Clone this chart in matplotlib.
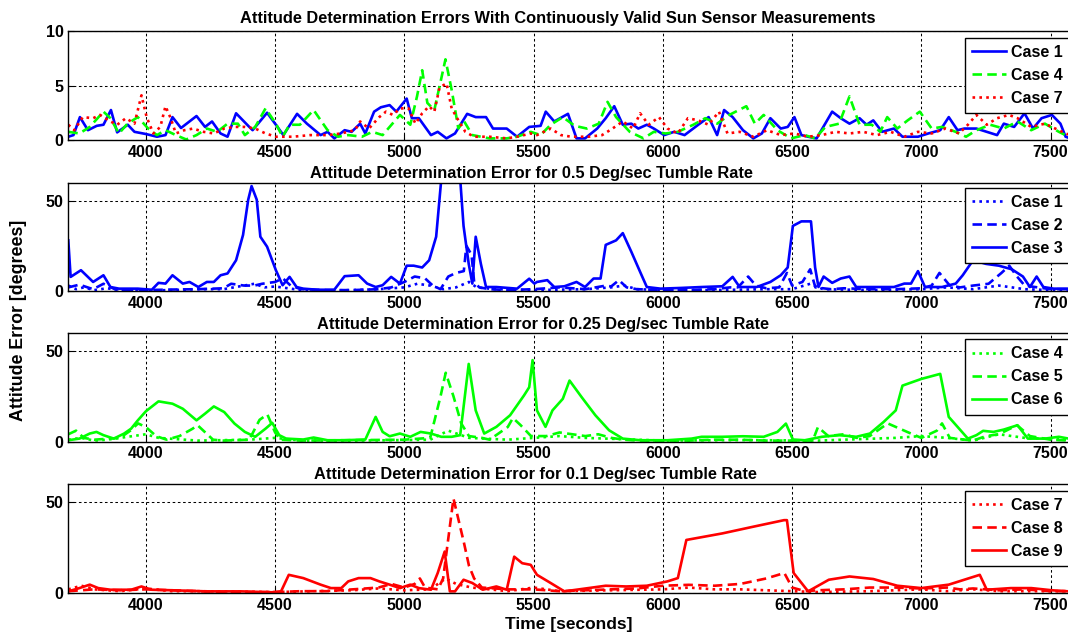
import matplotlib
matplotlib.use('Agg')
import matplotlib.pyplot as plt

plt.rcParams['font.family'] = ['Liberation Sans', 'DejaVu Sans']
plt.rcParams['font.weight'] = 'bold'

# ---------------- data ----------------
titles = ["Attitude Determination Errors With Continuously Valid Sun Sensor Measurements",
          "Attitude Determination Error for 0.5 Deg/sec Tumble Rate",
          "Attitude Determination Error for 0.25 Deg/sec Tumble Rate",
          "Attitude Determination Error for 0.1 Deg/sec Tumble Rate"]
xticks = [4000, 4500, 5000, 5500, 6000, 6500, 7000, 7500]
yticks_top = [0, 5, 10]
yticks_low = [0, 50]

# Panel 1
p1_case1_t = [3700, 3720, 3745, 3776, 3810, 3836, 3865, 3889, 3930, 3956, 4000, 4043, 4076, 4103, 4136, 4196,
              4229, 4256, 4289, 4316, 4349, 4396, 4413, 4469, 4503, 4532, 4585, 4623, 4676, 4703, 4729, 4769,
              4796, 4829, 4849, 4883, 4909, 4943, 4969, 5009, 5029, 5056, 5103, 5129, 5163, 5196, 5243, 5276,
              5316, 5343, 5396, 5436, 5483, 5527, 5547, 5580, 5633, 5666, 5699, 5746, 5779, 5812, 5845, 5878,
              5905, 5938, 5965, 6005, 6044, 6084, 6137, 6177, 6210, 6237, 6270, 6310, 6350, 6383, 6416, 6456,
              6483, 6509, 6536, 6562, 6595, 6655, 6688, 6722, 6761, 6788, 6814, 6848, 6894, 6927, 6987, 7027,
              7073, 7106, 7140, 7166, 7213, 7253, 7293, 7319, 7359, 7399, 7432, 7465, 7505, 7538, 7558, 7570]
p1_case1_y = [0.3, 0.45, 2.1, 0.9, 1.3, 1.4, 2.75, 0.7, 1.4, 0.75, 0.55, 0.3, 0.45, 2.1, 1.1, 2.2,
              1.2, 1.7, 0.6, 0.3, 2.45, 1.3, 0.9, 2.5, 1.4, 0.45, 2.4, 1.5, 0.45, 0.75, 0.15, 0.9,
              0.75, 1.5, 0.6, 2.6, 3.0, 3.2, 2.6, 3.8, 2.0, 2.0, 0.45, 0.75, 0.15, 0.6, 2.4, 2.1,
              2.1, 1.05, 1.05, 0.3, 1.2, 1.3, 2.6, 1.7, 2.4, 0.15, 0.15, 1.05, 2.0, 3.1, 1.4, 1.5,
              1.05, 1.4, 1.05, 0.45, 0.75, 0.45, 1.4, 2.1, 0.45, 2.75, 2.1, 0.9, 0.15, 0.6, 2.0, 1.05,
              1.2, 2.1, 0.45, 0.3, 0.15, 2.6, 2.0, 1.5, 2.0, 1.4, 1.8, 0.75, 1.05, 0.3, 0.3, 0.6,
              0.9, 2.1, 0.9, 1.05, 1.05, 0.75, 0.45, 1.5, 1.2, 2.45, 1.05, 2.0, 2.3, 1.5, 0.3, 0.2]

p1_case4_t = [3700, 3743, 3783, 3836, 3863, 3896, 3929, 3969, 4009, 4043, 4076, 4116, 4156, 4196, 4236, 4276,
              4316, 4356, 4383, 4423, 4463, 4503, 4529, 4556, 4596, 4649, 4703, 4743, 4783, 4836, 4876, 4916,
              4943, 4983, 5023, 5049, 5069, 5089, 5116, 5136, 5159, 5183, 5209, 5229, 5263, 5329, 5396, 5436,
              5489, 5527, 5566, 5613, 5659, 5706, 5752, 5786, 5819, 5872, 5925, 5965, 6011, 6058, 6118, 6164,
              6210, 6257, 6323, 6356, 6390, 6443, 6496, 6549, 6589, 6629, 6682, 6722, 6761, 6808, 6841, 6868,
              6907, 6947, 6994, 7040, 7080, 7133, 7173, 7213, 7266, 7319, 7372, 7425, 7478, 7532, 7570]
p1_case4_y = [0.75, 0.6, 1.2, 2.6, 2.0, 0.6, 1.5, 2.1, 1.05, 0.45, 0.9, 0.45, 0.05, 0.45, 1.05, 0.75,
              1.5, 1.5, 0.45, 1.2, 2.9, 1.5, 0.3, 1.4, 1.4, 2.75, 0.9, 0.3, 0.45, 0.3, 0.75, 0.45,
              1.2, 2.3, 1.4, 4.0, 6.4, 3.4, 2.75, 4.9, 7.4, 4.6, 1.05, 1.8, 0.45, 0.15, 0.15, 0.3,
              0.75, 0.45, 1.4, 2.1, 1.3, 1.05, 1.5, 3.5, 2.1, 0.75, 0.15, 0.75, 0.6, 0.75, 1.4, 2.0,
              1.5, 2.3, 3.1, 1.5, 2.3, 0.9, 0.15, 0.45, 0.15, 1.2, 1.5, 4.0, 1.4, 1.4, 0.75, 2.1,
              1.05, 1.8, 2.6, 1.05, 1.2, 0.75, 0.3, 0.9, 1.4, 1.05, 1.7, 0.9, 1.5, 0.75, 0.3]

p1_case7_t = [3700, 3723, 3756, 3796, 3823, 3863, 3889, 3923, 3956, 3983, 4003, 4029, 4056, 4076, 4096, 4116,
              4149, 4183, 4223, 4263, 4303, 4343, 4383, 4423, 4463, 4503, 4569, 4636, 4703, 4756, 4809, 4829,
              4863, 4903, 4929, 4956, 4983, 5016, 5043, 5069, 5096, 5116, 5136, 5163, 5183, 5209, 5236, 5269,
              5329, 5396, 5436, 5489, 5513, 5566, 5606, 5646, 5712, 5765, 5805, 5845, 5885, 5912, 5945, 5985,
              6018, 6058, 6097, 6137, 6177, 6217, 6250, 6297, 6350, 6403, 6456, 6509, 6562, 6615, 6668, 6722,
              6775, 6828, 6881, 6934, 6987, 7040, 7093, 7146, 7180, 7213, 7253, 7293, 7339, 7372, 7425, 7478,
              7518, 7558, 7570]
p1_case7_y = [1.4, 0.9, 2.1, 2.0, 2.3, 1.7, 1.4, 2.0, 1.5, 4.1, 2.1, 0.6, 1.2, 3.1, 2.0, 0.6,
              0.9, 1.05, 0.75, 0.6, 1.05, 1.2, 1.2, 1.05, 0.6, 0.3, 0.3, 0.45, 0.45, 0.6, 0.9, 1.7,
              1.05, 2.1, 2.6, 2.3, 2.9, 2.9, 1.5, 2.45, 3.1, 2.6, 4.8, 5.2, 2.9, 1.8, 0.75, 0.3,
              0.3, 0.15, 0.3, 0.6, 0.45, 1.05, 0.45, 0.3, 0.3, 0.45, 1.05, 1.7, 1.05, 2.45, 1.4, 2.1,
              1.05, 0.6, 2.0, 1.8, 1.4, 2.6, 0.6, 0.75, 0.3, 0.9, 0.45, 0.6, 0.3, 0.45, 0.75, 0.6,
              0.75, 0.45, 0.75, 0.3, 0.75, 0.6, 1.05, 0.6, 1.4, 2.3, 1.4, 2.0, 2.3, 2.0, 1.2, 1.5,
              1.05, 0.6, 0.5]

# Panel 2
p2_case1_t = [3700, 3730, 3760, 3800, 3850, 3900, 3950, 4000, 4100, 4200, 4300, 4380, 4420, 4460, 4500, 4600,
              4700, 4800, 4900, 5000, 5050, 5100, 5150, 5200, 5250, 5280, 5350, 5500, 5700, 5800, 5850, 5900,
              6000, 6200, 6400, 6500, 6570, 6620, 6800, 7000, 7100, 7200, 7300, 7350, 7400, 7500, 7570]
p2_case1_y = [3, 1, 2, 0.5, 1.5, 0.5, 0.5, 0.3, 0.5, 1, 1, 3, 4, 2, 2.5, 0.5,
              0.3, 0.5, 1, 2, 4, 3, 1, 2, 5, 2, 1, 0.5, 1, 2, 3, 1,
              0.5, 0.5, 1, 1, 4, 1, 0.5, 1, 2, 1, 3, 2, 1, 0.5, 0.5]

p2_case2_t = [3700, 3743, 3796, 3836, 3880, 3950, 4000, 4100, 4200, 4300, 4330, 4380, 4420, 4450, 4500, 4530,
              4560, 4600, 4700, 4800, 4900, 4950, 5000, 5040, 5080, 5110, 5140, 5170, 5200, 5230, 5240, 5260,
              5270, 5290, 5330, 5400, 5500, 5600, 5700, 5780, 5800, 5830, 5860, 5900, 6000, 6100, 6200, 6260,
              6290, 6330, 6360, 6400, 6450, 6480, 6500, 6540, 6570, 6590, 6650, 6700, 6800, 6900, 7000, 7040,
              7070, 7110, 7150, 7200, 7260, 7310, 7340, 7370, 7400, 7450, 7500, 7570]
p2_case2_y = [2, 3.5, 1, 4, 1, 0.5, 0.5, 0.8, 1, 1.5, 4, 3, 3, 4, 5, 7,
              3, 1, 0.5, 0.5, 1, 2, 5, 8, 7, 3, 1, 8, 10, 11, 25, 20,
              5, 2, 1, 0.5, 1, 2, 1, 3, 2.5, 6, 2, 1, 0.5, 0.5, 1, 2,
              2, 8, 3, 1.5, 2, 10, 3, 5, 12, 2, 1, 1.5, 1, 1, 1.5, 3,
              10, 3, 2, 3, 4, 10, 14, 8, 3, 2, 1, 1]

p2_case3_t = [3700, 3709, 3749, 3796, 3836, 3863, 3896, 3969, 4023, 4049, 4076, 4103, 4143, 4169, 4203, 4236,
              4263, 4289, 4316, 4349, 4376, 4396, 4409, 4429, 4443, 4469, 4503, 4529, 4556, 4583, 4609, 4663,
              4729, 4769, 4823, 4856, 4889, 4916, 4949, 4983, 5009, 5036, 5069, 5096, 5123, 5143, 5216, 5229,
              5249, 5263, 5276, 5296, 5316, 5356, 5436, 5483, 5503, 5513, 5553, 5580, 5619, 5666, 5699, 5732,
              5759, 5779, 5819, 5845, 5878, 5912, 5938, 5991, 6071, 6150, 6230, 6270, 6297, 6363, 6416, 6456,
              6483, 6503, 6536, 6573, 6589, 6602, 6622, 6655, 6688, 6722, 6748, 6814, 6894, 6934, 6960, 6987,
              7014, 7080, 7133, 7160, 7200, 7250, 7300, 7350, 7393, 7420, 7446, 7472, 7512, 7570]
p2_case3_y = [28, 7.8, 11.5, 5.0, 8.7, 2.2, 1.3, 1.3, 0.7, 4.5, 4.1, 8.7, 4.1, 5.0, 2.2, 5.0,
              5.0, 8.7, 9.7, 17, 31, 50.5, 58, 50.5, 30, 24.5, 11.5, 3.2, 7.8, 2.2, 1.3, 0.7,
              0.7, 8.2, 8.7, 4.1, 2.2, 3.2, 7.8, 4.1, 14, 14, 13, 17, 30, 62, 62, 36,
              15, 4.1, 30, 15, 2.2, 2.2, 1.3, 6.8, 4.1, 5, 6, 2.2, 2.6, 5, 2.2, 6.9,
              6.9, 25.5, 28, 32, 21.7, 10.6, 2.2, 1.3, 1.7, 2.2, 2.6, 7.8, 2.2, 2.2, 5.0, 8.7,
              13, 36, 38.5, 38.5, 13, 2.2, 8, 4.5, 6.9, 8, 2.2, 2.2, 2.2, 4.1, 4.1, 11,
              2.2, 2.2, 4.1, 8.7, 17, 15, 14, 12, 8, 2.2, 8, 2.2, 1.3, 1.3]

# Panel 3
p3_case4_t = [3700, 3750, 3800, 3850, 3950, 4000, 4050, 4200, 4400, 4500, 4600, 4800, 5000, 5100, 5170, 5250,
              5400, 5500, 5600, 5700, 6000, 6300, 6600, 6900, 7000, 7100, 7200, 7300, 7400, 7570]
p3_case4_y = [1, 2, 0.5, 1, 3, 4, 2, 0.5, 1, 2, 0.5, 0.5, 0.8, 1, 6, 2,
              1, 2, 3, 2, 0.5, 0.8, 0.5, 2, 3, 2, 0.5, 4, 2, 1]

p3_case5_t = [3700, 3730, 3760, 3800, 3900, 3940, 3970, 4000, 4040, 4080, 4130, 4180, 4200, 4230, 4260, 4300,
              4400, 4440, 4470, 4500, 4520, 4600, 5000, 5100, 5140, 5160, 5190, 5220, 5250, 5300, 5330, 5400,
              5420, 5450, 5490, 5510, 5550, 5600, 5650, 5700, 5750, 5800, 5850, 5900, 6000, 6100, 6200, 6300,
              6400, 6500, 6580, 6600, 6640, 6700, 6750, 6800, 6870, 6950, 7000, 7060, 7080, 7110, 7200, 7250,
              7300, 7370, 7420, 7500, 7570]
p3_case5_y = [4, 6, 2, 1, 2, 6, 10, 8, 3, 1, 3, 7, 9, 5, 1, 0.5,
              1, 12, 15, 5, 1, 0.5, 1, 2, 25, 38, 25, 10, 3, 2, 1, 8,
              13, 9, 3, 3, 3, 5, 4, 3, 4, 2, 1, 0.5, 0.5, 0.5, 1, 1,
              0.5, 0.5, 0.5, 8, 3, 4, 2, 3, 10, 5, 2, 6, 10, 2, 0.5, 3,
              4, 9, 3, 1, 0.5]

p3_case6_t = [3700, 3743, 3783, 3809, 3836, 3876, 3916, 3943, 3969, 4000, 4049, 4103, 4143, 4196, 4229, 4263,
              4303, 4343, 4383, 4423, 4463, 4489, 4516, 4543, 4609, 4649, 4703, 4769, 4849, 4889, 4916, 4943,
              4983, 5023, 5063, 5103, 5143, 5183, 5216, 5249, 5276, 5309, 5356, 5409, 5436, 5463, 5483, 5496,
              5513, 5546, 5573, 5613, 5639, 5686, 5739, 5792, 5845, 5912, 6018, 6111, 6150, 6230, 6310, 6390,
              6443, 6476, 6503, 6549, 6615, 6682, 6748, 6801, 6854, 6901, 6927, 7000, 7073, 7106, 7140, 7180,
              7213, 7239, 7279, 7319, 7372, 7412, 7478, 7532, 7570]
p3_case6_y = [0.7, 1.6, 4.4, 5.3, 3.5, 1.6, 4.4, 7.1, 11.7, 16.7, 22.2, 20.9, 18.1, 11.7, 15.4, 19.4,
              16.3, 9.9, 5.3, 2.6, 7.1, 10.3, 3.5, 1.6, 1.1, 2.2, 0.7, 0.7, 1.1, 13.6, 5.3, 2.9,
              4.4, 2.6, 5.3, 4.4, 2.6, 2.6, 3.5, 42.9, 17.2, 4.4, 8.1, 14.5, 20, 25.5, 30, 45,
              17.2, 8.1, 17.2, 23.6, 33.7, 24.5, 14.5, 6.2, 1.6, 0.7, 0.7, 1.6, 2.6, 2.6, 2.9, 2.6,
              5.3, 9.9, 1.1, 0.7, 2.6, 3.5, 2.6, 4.4, 10.8, 17.2, 30.9, 34.6, 37.4, 13.6, 8.1, 1.6,
              3.5, 5.9, 5.3, 6.6, 9, 1.6, 1.6, 2.6, 1.6]

# Panel 4
p4_case7_t = [3700, 3750, 3780, 3800, 3900, 4000, 4100, 4200, 4500, 4800, 4900, 5000, 5100, 5160, 5200, 5260,
              5400, 5500, 5600, 6000, 6100, 6200, 6300, 6400, 6500, 6600, 6800, 7000, 7100, 7200, 7300, 7500, 7570]
p4_case7_y = [2, 4, 3, 2, 1, 2.5, 1, 1, 0.5, 1.5, 2.5, 1.5, 2, 8, 5, 3,
              1, 3, 1, 2, 3, 2, 2, 1.5, 1, 0.5, 1, 2, 1, 2, 1, 1, 1]

p4_case8_t = [3700, 3800, 3900, 4000, 4100, 4200, 4300, 4500, 4600, 4700, 4800, 4900, 4950, 5000, 5040, 5060,
              5080, 5130, 5150, 5170, 5190, 5210, 5230, 5250, 5270, 5300, 5400, 5500, 5600, 5700, 5800, 5900,
              6000, 6100, 6200, 6300, 6400, 6470, 6500, 6550, 6600, 6700, 6800, 6900, 7000, 7100, 7150, 7200,
              7250, 7300, 7400, 7500, 7570]
p4_case8_y = [1, 2, 1.5, 2, 1.5, 1, 0.5, 0.5, 1, 1, 2, 3, 5, 3, 5, 8,
              3, 2, 8, 30, 52, 40, 28, 15, 8, 3, 2, 2, 1, 1.5, 2, 2.5,
              4, 4.5, 4, 5, 8, 11, 3, 1, 1.5, 2, 3, 3, 2.5, 3, 2, 2.5,
              2, 1.5, 2, 1, 1]

p4_case9_t = [3700, 3743, 3783, 3816, 3863, 3943, 3983, 4023, 4103, 4236, 4369, 4489, 4523, 4553, 4609, 4676,
              4716, 4756, 4783, 4823, 4869, 4903, 4943, 4983, 5023, 5056, 5103, 5129, 5156, 5176, 5196, 5229,
              5263, 5303, 5356, 5396, 5425, 5456, 5489, 5513, 5566, 5619, 5686, 5779, 5858, 5938, 6018, 6058,
              6091, 6230, 6350, 6469, 6480, 6506, 6562, 6642, 6722, 6814, 6907, 7000, 7106, 7226, 7253, 7346,
              7425, 7505, 7570]
p4_case9_y = [0.9, 2.7, 4.6, 2.7, 1.8, 1.8, 3.6, 1.8, 1.5, 0.9, 0.9, 0.4, 0.9, 10, 8.2, 4.6,
              2.7, 2.7, 6.4, 8.2, 8.2, 6.4, 4.6, 2.7, 4.6, 2.7, 1.8, 11, 22.8, 0.9, 0.9, 7.3,
              5.5, 1.8, 3.6, 1.8, 20, 16.4, 15.5, 10, 5.5, 0.9, 2.2, 4, 3.6, 4, 6.4, 8.2,
              29.2, 32.8, 36.5, 40.1, 40.1, 11, 0.9, 7.3, 9.1, 7.7, 4, 2.7, 4.6, 10, 1.8, 2.7,
              2.7, 1.5, 0.9]

# ---------------- layout ----------------
W, H = 1068, 634
fig = plt.figure(figsize=(W / 100, H / 100), dpi=100)

XMIN, XMAX = 3700, 7700
X0 = 68.3            # px of left edge
PXU = 0.2585         # px per data unit
AXW = (XMAX - XMIN) * PXU
panels_px = [(31, 140), (182.5, 291), (333, 441.5), (484, 593)]
legend_top = [37.7, 187.7, 339.3, 490.7]
title_pos = [(558, 19), (531, 173), (543, 324), (535, 474)]

DOT = (0, (1, 1.6))
DASH = (0, (3.6, 2.0))
LW = 1.9

series = [
    [(p1_case1_t, p1_case1_y, 'b', '-', 'Case 1'),
     (p1_case4_t, p1_case4_y, (0, 1, 0), DASH, 'Case 4'),
     (p1_case7_t, p1_case7_y, 'r', DOT, 'Case 7')],
    [(p2_case1_t, p2_case1_y, 'b', DOT, 'Case 1'),
     (p2_case2_t, p2_case2_y, 'b', DASH, 'Case 2'),
     (p2_case3_t, p2_case3_y, 'b', '-', 'Case 3')],
    [(p3_case4_t, p3_case4_y, (0, 1, 0), DOT, 'Case 4'),
     (p3_case5_t, p3_case5_y, (0, 1, 0), DASH, 'Case 5'),
     (p3_case6_t, p3_case6_y, (0, 1, 0), '-', 'Case 6')],
    [(p4_case7_t, p4_case7_y, 'r', DOT, 'Case 7'),
     (p4_case8_t, p4_case8_y, 'r', DASH, 'Case 8'),
     (p4_case9_t, p4_case9_y, 'r', '-', 'Case 9')],
]

FS_TICK = 11.5
FS_TITLE = 11.8
for i, ((top, bot), ser) in enumerate(zip(panels_px, series)):
    ax = fig.add_axes([X0 / W, 1 - bot / H, AXW / W, (bot - top) / H])
    for t, y, c, ls, lab in ser:
        ax.plot(t, y, color=c, linestyle=ls, linewidth=LW, label=lab)
    ax.set_xlim(XMIN, XMAX)
    if i == 0:
        ax.set_ylim(0, 10)
        ax.set_yticks(yticks_top)
    else:
        ax.set_ylim(0, 60)
        ax.set_yticks(yticks_low)
    ax.set_xticks(xticks)
    ax.grid(True, color='k', linestyle=(0, (2.5, 2.5)), linewidth=0.75)
    ax.tick_params(direction='in', length=4, labelsize=FS_TICK, pad=3.5, width=0.8)
    for lbl in ax.get_xticklabels() + ax.get_yticklabels():
        lbl.set_fontweight('bold')
    for sp in ax.spines.values():
        sp.set_linewidth(1.0)
    leg = ax.legend(loc='upper left', bbox_to_anchor=(965 / W, 1 - legend_top[i] / H),
                    bbox_transform=fig.transFigure, borderaxespad=0, fancybox=False,
                    framealpha=1, edgecolor='k', prop={'size': 11.5, 'weight': 'bold'},
                    handlelength=2.1, handletextpad=0.35, labelspacing=0.5, borderpad=0.45)
    leg.get_frame().set_linewidth(1.0)
    fig.text(title_pos[i][0] / W, 1 - title_pos[i][1] / H, titles[i], ha='center', va='center',
             fontsize=FS_TITLE, fontweight='bold')

fig.text(19 / W, 1 - 320 / H, 'Attitude Error [degrees]', rotation=90, ha='center', va='center',
         fontsize=12.8, fontweight='bold')
fig.text(569 / W, 1 - 625 / H, 'Time [seconds]', ha='center', va='center', fontsize=12.5, fontweight='bold')

fig.savefig('out.png', dpi=100)
